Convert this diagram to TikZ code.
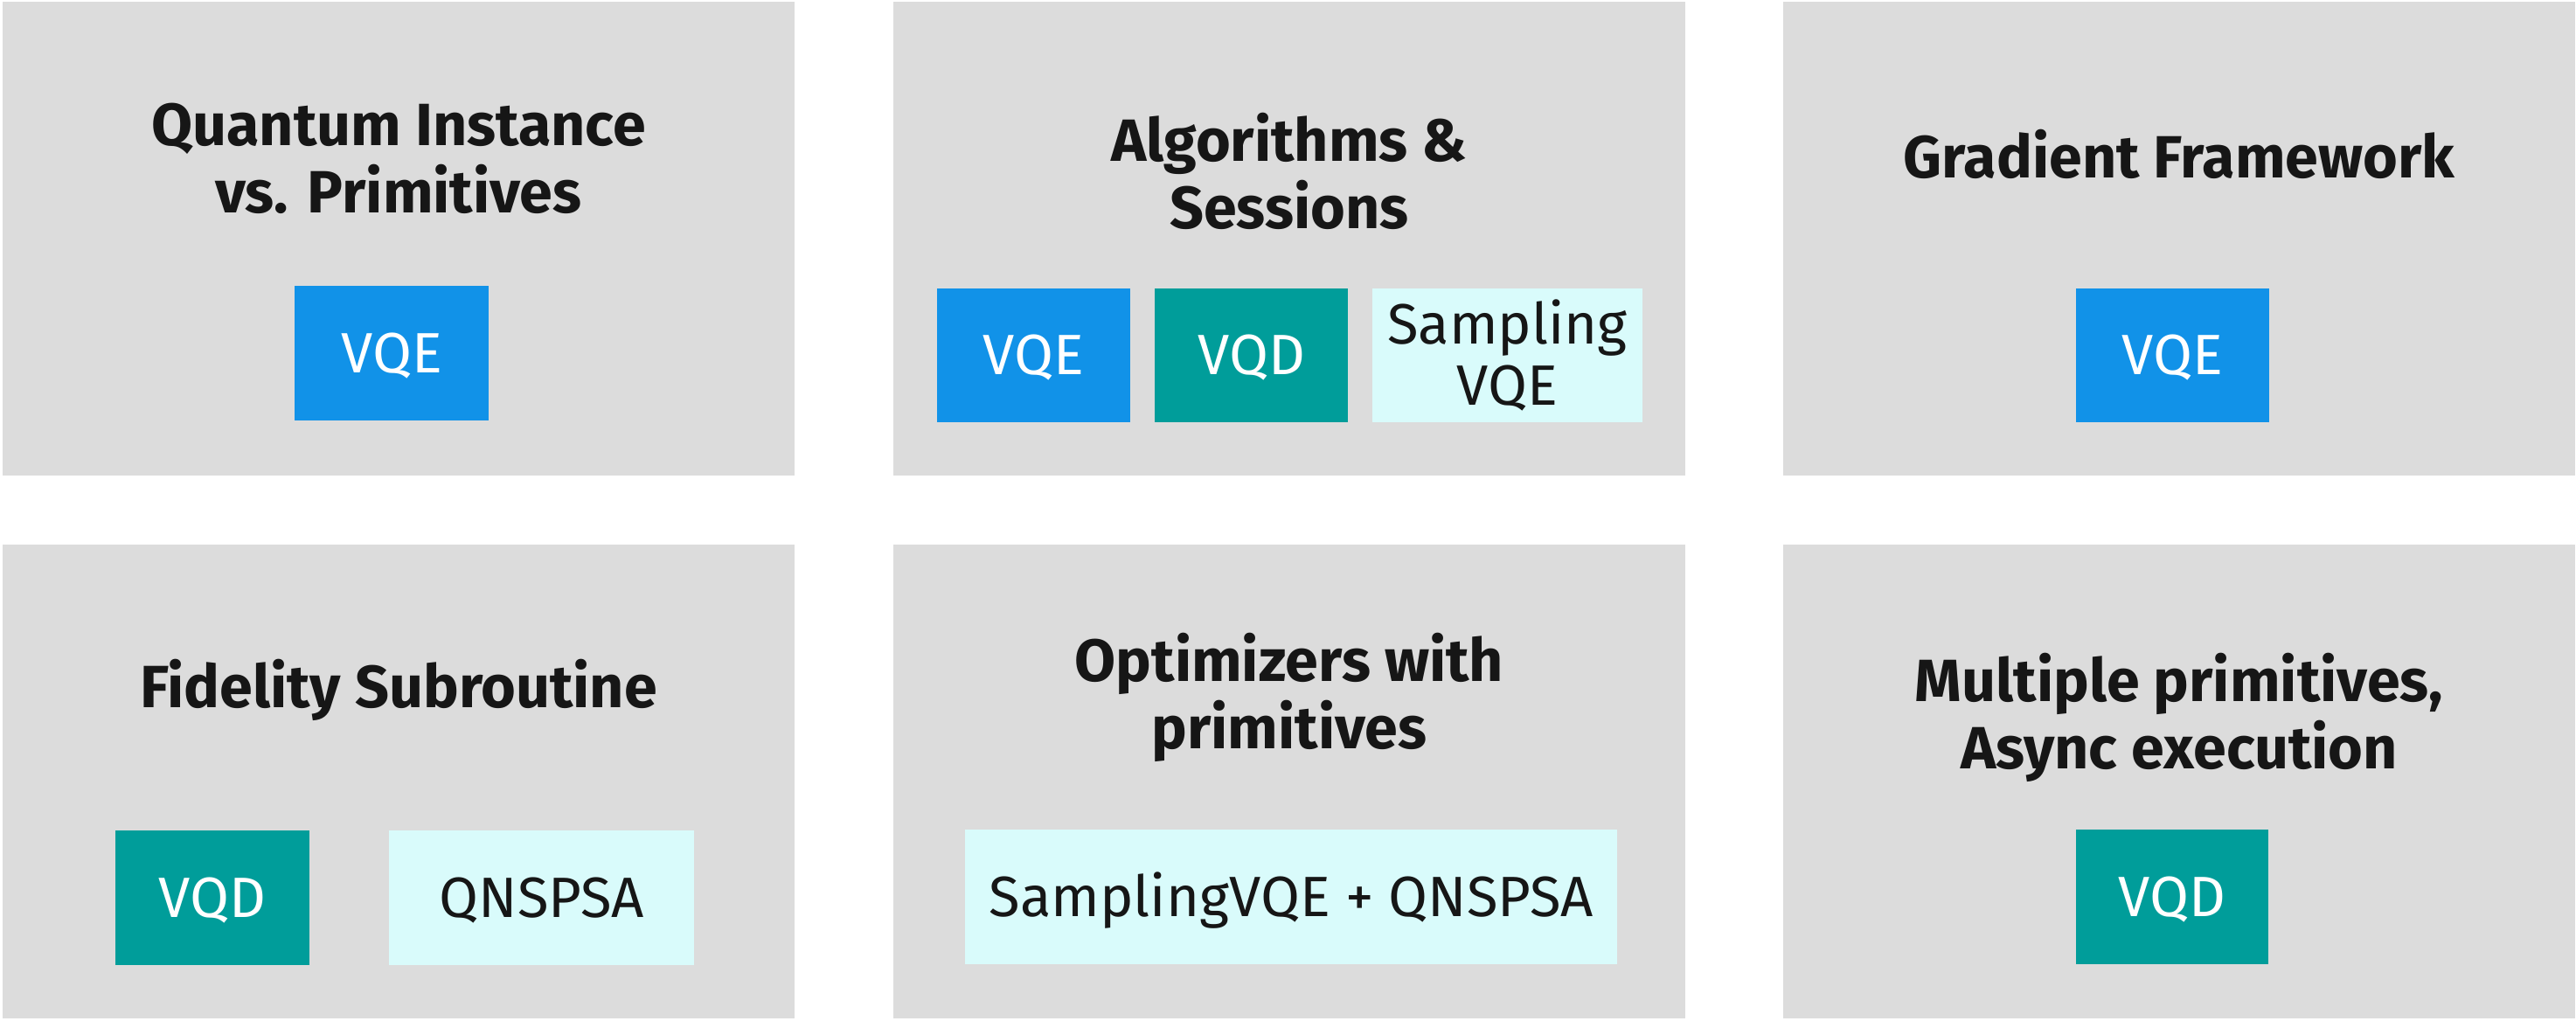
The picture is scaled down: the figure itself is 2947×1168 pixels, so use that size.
\documentclass[tikz,border=0pt]{standalone}
\usepackage{fontspec}
\setmainfont{Fira Sans}
\definecolor{panelgray}{HTML}{DCDCDC}
\definecolor{vqeblue}{HTML}{1192E8}
\definecolor{vqdteal}{HTML}{009D9A}
\definecolor{paleteal}{HTML}{D9FBFB}
\definecolor{ink}{HTML}{161616}
\tikzset{
  panel/.style={fill=panelgray},
  heading/.style={font=\bfseries\fontsize{19.4}{21.9}\selectfont, text=ink, align=center, inner sep=0pt},
  algo/.style={minimum height=1.53cm, inner sep=0pt, align=center,
    font=\fontsize{18.5}{19.9}\selectfont, text height=0.45cm, text depth=0cm},
  vqebox/.style={algo, fill=vqeblue, text=white},
  vqdbox/.style={algo, fill=vqdteal, text=white},
  palebox/.style={algo, fill=paleteal, text=ink},
}
\begin{document}
\begin{tikzpicture}[x=0.01cm, y=-0.01cm]
  \useasboundingbox (0, 0) rectangle (2947, 1168);
  \foreach \x in {3, 1022, 2040}
    \foreach \y in {2, 623}
      \fill[panel] (\x, \y) rectangle ++(906, 542);

  % top row (base = last line)
  \node[heading, anchor=base] (qi) at (456, 244) {Quantum Instance\\vs. Primitives};
  \node[vqebox, minimum width=2.22cm] (qivqe) at (448, 404) {VQE};

  \node[heading, anchor=base] (alg) at (1475, 262) {Algorithms \&\\Sessions};
  \node[vqebox, minimum width=2.21cm] (algvqe) at (1182.5, 406.5) {VQE};
  \node[vqdbox, minimum width=2.21cm] (algvqd) at (1431.5, 406.5) {VQD};
  \node[palebox, minimum width=3.09cm, text height=, text depth=] (algsvqe) at (1724.5, 406.5) {Sampling\\VQE};

  \node[heading, anchor=base] (grad) at (2493, 204) {Gradient Framework};
  \node[vqebox, minimum width=2.21cm] (gradvqe) at (2485.5, 406.5) {VQE};

  % bottom row
  \node[heading, anchor=base] (fid) at (456, 810) {Fidelity Subroutine};
  \node[vqdbox, minimum width=2.22cm] (fidvqd) at (243, 1027) {VQD};
  \node[palebox, minimum width=3.49cm] (fidqn) at (619.5, 1027) {QNSPSA};

  \node[heading, anchor=base] (opt) at (1475, 857) {Optimizers with\\primitives};
  \node[palebox, minimum width=7.46cm] (optsq) at (1477, 1026) {SamplingVQE + QNSPSA};

  \node[heading, anchor=base] (multi) at (2493, 880) {Multiple primitives,\\Async execution};
  \node[vqdbox, minimum width=2.2cm] (multivqd) at (2485, 1026) {VQD};
\end{tikzpicture}
\end{document}
